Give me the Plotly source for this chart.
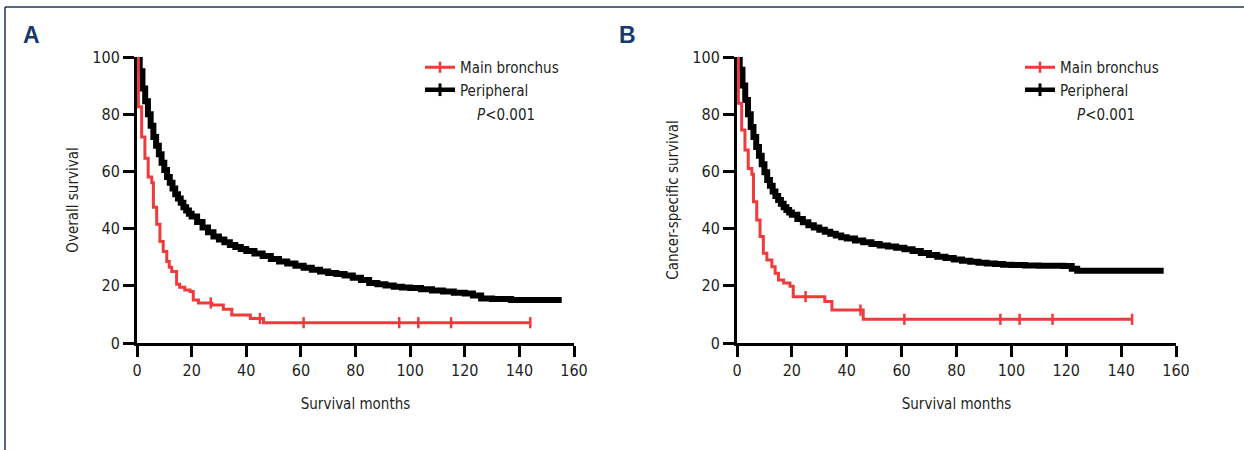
import plotly.graph_objects as go

# ---------------- data ----------------
# Panel A: overall survival (Kaplan-Meier steps)
a_main_t = [0, 0.5, 1.7, 2.9, 4.1, 5.4, 6.0, 7.2, 8.4, 9.6, 10.9, 11.8, 12.7, 14.5, 15.6, 17.5,
            19.4, 20.6, 22.5, 27.4, 31.6, 34.7, 41.5, 46.3, 144]
a_main_s = [100, 82.6, 72, 64.6, 58, 56, 47.5, 41.5, 35.5, 32, 28.5, 26.5, 25, 20.5, 19.5, 18.5,
            18, 15, 14, 13.3, 11.8, 9.8, 8.6, 7.1, 7.1]
a_main_cens = [27, 45, 61, 96, 103, 115, 144]

a_peri_t = [0, 1, 2, 3, 4, 5, 6, 7, 8, 9, 10, 11, 12, 13, 14, 15, 16, 17, 18, 19, 20, 22, 24, 26,
            28, 30, 32, 34, 36, 38, 40, 43, 46, 49, 52, 55, 58, 61, 64, 67, 70, 73, 76, 79, 82,
            85, 88, 91, 94, 97, 100, 104, 108, 112, 116, 120, 123, 126, 130, 137, 155.5]
a_peri_s = [100, 95, 89, 84.5, 80, 76, 72, 69, 66, 63, 60.5, 58, 56, 54, 52, 50.5, 49, 47.5, 46.3,
            45.2, 44.2, 42.3, 40.4, 38.7, 37.2, 36.2, 35.2, 34.3, 33.6, 32.9, 32.2, 31.3, 30.4,
            29.4, 28.5, 27.8, 27, 26.3, 25.6, 25, 24.5, 24.1, 23.6, 22.8, 22, 21, 20.5, 20.1,
            19.7, 19.4, 19.2, 18.8, 18.4, 18, 17.6, 17.3, 16.6, 15.6, 15.4, 15, 15]

# Panel B: cancer-specific survival
b_main_t = [0, 0.5, 1.7, 2.9, 4.1, 5.4, 6.0, 7.2, 8.4, 9.6, 10.9, 12.7, 13.9, 15.1, 17, 19.3,
            20.5, 32, 34.6, 46, 144]
b_main_s = [100, 83.8, 74.5, 67.5, 61, 59, 49.4, 43, 37.2, 31.4, 29, 26.7, 24.4, 22, 21, 19.8,
            16.2, 14.5, 11.5, 8.3, 8.3]
b_main_cens = [25, 45, 61, 96, 103, 115, 144]

b_peri_t = [0, 1, 2, 3, 4, 5, 6, 7, 8, 9, 10, 11, 12, 13, 14, 15, 16, 17, 18, 19, 20, 22, 24, 26,
            28, 30, 32, 34, 36, 38, 40, 43, 46, 49, 52, 55, 58, 61, 64, 67, 70, 73, 76, 79, 82,
            85, 88, 91, 94, 97, 100, 105, 110, 115, 119, 122, 124, 155.5]
b_peri_s = [100, 95.5, 90, 85, 80, 75.5, 72, 68.5, 65.5, 62.5, 59.7, 57, 55, 53, 51.4, 50, 48.7,
            47.5, 46.5, 45.6, 44.8, 43.4, 42.2, 41.2, 40.4, 39.6, 38.9, 38.2, 37.6, 37, 36.5,
            35.8, 35.2, 34.6, 34.1, 33.7, 33.3, 32.8, 32.2, 31.5, 30.8, 30.2, 29.7, 29.2, 28.8,
            28.4, 28.1, 27.8, 27.6, 27.4, 27.3, 27.1, 27, 27, 26.9, 26, 25.3, 25.3]

series_names = ["Main bronchus", "Peripheral"]
x_ticks = [0, 20, 40, 60, 80, 100, 120, 140, 160]
y_ticks = [0, 20, 40, 60, 80, 100]
p_text = "<i>P</i><0.001"

RED = "#ee3b3b"
BLACK = "#000000"
NAVY = "#163a6b"
TXT = "#231f20"
FONT = "Liberation Sans Narrow, DejaVu Sans Condensed, Arial Narrow, sans-serif"
W, H = 1244, 450


def surv_at(ts, ss, t):
    val = ss[0]
    for ti, si in zip(ts, ss):
        if ti <= t:
            val = si
    return val


fig = go.Figure()

panels = [
    ("x", "y", "legend", a_main_t, a_main_s, a_main_cens, a_peri_t, a_peri_s),
    ("x2", "y2", "legend2", b_main_t, b_main_s, b_main_cens, b_peri_t, b_peri_s),
]
for xa, ya, lg, mt, ms, mc, pt, ps in panels:
    fig.add_trace(go.Scatter(x=pt, y=ps, mode="lines", line=dict(color=BLACK, width=6, shape="hv"),
                             xaxis=xa, yaxis=ya, showlegend=False, hoverinfo="skip"))
    fig.add_trace(go.Scatter(x=mt, y=ms, mode="lines", line=dict(color=RED, width=3, shape="hv"),
                             xaxis=xa, yaxis=ya, showlegend=False, hoverinfo="skip"))
    fig.add_trace(go.Scatter(x=mc, y=[surv_at(mt, ms, c) for c in mc], mode="markers",
                             marker=dict(symbol="line-ns", size=8, line=dict(color=RED, width=2.5)),
                             xaxis=xa, yaxis=ya, showlegend=False, hoverinfo="skip"))
    # legend entries
    fig.add_trace(go.Scatter(x=[None], y=[None], mode="lines+markers", name=series_names[0],
                             line=dict(color=RED, width=3),
                             marker=dict(symbol="line-ns", size=8, line=dict(color=RED, width=2.5)),
                             xaxis=xa, yaxis=ya, legend=lg))
    fig.add_trace(go.Scatter(x=[None], y=[None], mode="lines+markers", name=series_names[1],
                             line=dict(color=BLACK, width=4.5),
                             marker=dict(symbol="line-ns", size=9, line=dict(color=BLACK, width=3)),
                             xaxis=xa, yaxis=ya, legend=lg))

y_dom = [(H - 343) / H, (H - 57) / H]
axis_common = dict(showline=True, linecolor="black", linewidth=3, ticks="outside", ticklen=11,
                   tickwidth=3, tickcolor="black", showgrid=False, zeroline=False, automargin=False,
                   tickfont=dict(family=FONT, size=16, color=TXT),
                   title_font=dict(family=FONT, size=15, color=TXT))

fig.update_layout(
    width=W, height=H,
    margin=dict(l=0, r=0, t=0, b=0, pad=0, autoexpand=False),
    paper_bgcolor="white", plot_bgcolor="white",
    showlegend=True,
    xaxis=dict(domain=[137 / W, 574 / W], range=[0, 160], tickvals=x_ticks, anchor="y",
               title=dict(text="Survival months", standoff=20), **axis_common),
    yaxis=dict(domain=y_dom, range=[0, 100], tickvals=y_ticks, anchor="x",
               title=dict(text="Overall survival", standoff=11), **axis_common),
    xaxis2=dict(domain=[737 / W, 1176 / W], range=[0, 160], tickvals=x_ticks, anchor="y2",
                title=dict(text="Survival months", standoff=20), **axis_common),
    yaxis2=dict(domain=y_dom, range=[0, 100], tickvals=y_ticks, anchor="x2",
                title=dict(text="Cancer-specific survival", standoff=11), **axis_common),
    legend=dict(x=420 / W, y=(H - 51) / H, xanchor="left", yanchor="top", bgcolor="rgba(0,0,0,0)",
                font=dict(family=FONT, size=15, color=TXT), tracegroupgap=0, borderwidth=0),
    legend2=dict(x=1020 / W, y=(H - 51) / H, xanchor="left", yanchor="top", bgcolor="rgba(0,0,0,0)",
                 font=dict(family=FONT, size=15, color=TXT), tracegroupgap=0, borderwidth=0),
)

# panel letters and P values
for letter, lx in (("A", 31), ("B", 628)):
    fig.add_annotation(text=f"<b>{letter}</b>", x=lx / W, y=(H - 35) / H, xref="paper", yref="paper",
                       xanchor="center", yanchor="middle", showarrow=False,
                       font=dict(family="Liberation Sans, Arial, sans-serif", size=23, color=NAVY))
for px in (506, 1106):
    fig.add_annotation(text=p_text, x=px / W, y=(H - 115) / H, xref="paper", yref="paper",
                       xanchor="center", yanchor="middle", showarrow=False,
                       font=dict(family=FONT, size=15, color=TXT))

# frame lines (top and left)
fig.add_shape(type="line", xref="paper", yref="paper", x0=5 / W, x1=1, y0=(H - 7) / H, y1=(H - 7) / H,
              line=dict(color="#1d3557", width=1.5))
fig.add_shape(type="line", xref="paper", yref="paper", x0=5 / W, x1=5 / W, y0=0, y1=(H - 7) / H,
              line=dict(color="#1d3557", width=1.5))

fig.write_html("out.html")
